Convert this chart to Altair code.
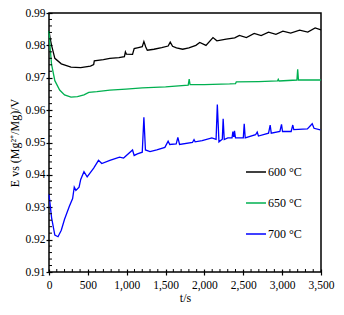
import altair as alt
import pandas as pd

# 600 °C
t600 = [0, 15, 33, 75, 158, 283, 408, 533, 575, 583, 700, 783, 900, 970, 983, 995, 1075, 1096, 1150, 1200, 1221, 1245, 1265,
        1350, 1450, 1533, 1560, 1590, 1640, 1720, 1800, 1890, 1940, 2020, 2110, 2160, 2280, 2390, 2450, 2540, 2640, 2730,
        2825, 2920, 3010, 3110, 3225, 3330, 3425, 3500]
e600 = [0.9845, 0.9822, 0.9800, 0.9760, 0.9743, 0.9733, 0.9731, 0.9736, 0.9741, 0.9752, 0.9756, 0.9760, 0.9762, 0.9765,
        0.9780, 0.9773, 0.9772, 0.9790, 0.9793, 0.9796, 0.9812, 0.9795, 0.9785, 0.9788, 0.9793, 0.9798, 0.9810, 0.9797,
        0.9792, 0.9788, 0.9792, 0.9800, 0.9809, 0.9800, 0.9824, 0.9814, 0.9819, 0.9823, 0.9831, 0.9824, 0.9837, 0.9830,
        0.9841, 0.9834, 0.9844, 0.9838, 0.9847, 0.9841, 0.9854, 0.9848]

# 650 °C
t650 = [0, 12, 33, 75, 137, 200, 283, 366, 450, 512, 616, 783, 991, 1200, 1500, 1791, 1804, 1815, 2000, 2325, 2400,
        2410, 2700, 2940, 2950, 2960, 3190, 3200, 3210, 3500]
e650 = [0.9844, 0.9800, 0.9741, 0.9691, 0.9662, 0.9647, 0.9640, 0.9642, 0.9647, 0.9655, 0.9657, 0.9662, 0.9665, 0.9669,
        0.9672, 0.9677, 0.9696, 0.9679, 0.9679, 0.9681, 0.9682, 0.9687, 0.9688, 0.9690, 0.9695, 0.9690, 0.9693, 0.9726,
        0.9693, 0.9693]

# 700 °C
t700 = [0, 33, 75, 116, 158, 200, 262, 304, 325, 346, 387, 408, 450, 491, 575, 637, 679, 783, 908, 960, 1075, 1096,
        1137, 1200, 1221, 1241, 1300, 1387, 1491, 1533, 1554, 1637, 1658, 1680, 1846, 1866, 1880, 1971, 2096, 2150, 2166,
        2187, 2230, 2241, 2255, 2300, 2355, 2366, 2375, 2380, 2387, 2400, 2500, 2512, 2525, 2658, 2679, 2695, 2825, 2846,
        2860, 2971, 2992, 3005, 3116, 3137, 3150, 3325, 3387, 3410, 3491]
e700 = [0.9340, 0.9268, 0.9214, 0.9209, 0.9229, 0.9263, 0.9303, 0.9327, 0.9362, 0.9352, 0.9362, 0.9386, 0.9410, 0.9394,
        0.9421, 0.9445, 0.9435, 0.9445, 0.9455, 0.9452, 0.9477, 0.9460, 0.9465, 0.9470, 0.9578, 0.9477, 0.9472, 0.9477,
        0.9485, 0.9504, 0.9494, 0.9496, 0.9516, 0.9494, 0.9500, 0.9509, 0.9502, 0.9506, 0.9514, 0.9510, 0.9617, 0.9502,
        0.9510, 0.9573, 0.9509, 0.9514, 0.9514, 0.9534, 0.9519, 0.9519, 0.9536, 0.9514, 0.9514, 0.9558, 0.9514, 0.9524,
        0.9532, 0.9520, 0.9529, 0.9554, 0.9529, 0.9534, 0.9556, 0.9534, 0.9534, 0.9554, 0.9540, 0.9542, 0.9558, 0.9544,
        0.9539]

series = ["600 °C", "650 °C", "700 °C"]
colors = ["#000000", "#00b050", "#0000ff"]

x_major = [0, 500, 1000, 1500, 2000, 2500, 3000, 3500]
y_major = [0.91, 0.92, 0.93, 0.94, 0.95, 0.96, 0.97, 0.98, 0.99]
x_minor = [v for v in range(0, 3501, 100) if v % 500 != 0]
y_minor = [round(0.91 + 0.002 * i, 3) for i in range(41) if i % 5 != 0]

frames = []
for name, ts, es in zip(series, [t600, t650, t700], [e600, e650, e700]):
    frames.append(pd.DataFrame({"t": ts, "E": es, "series": name}))
df = pd.concat(frames, ignore_index=True)

FONT = "Liberation Serif"
W, H = 272, 259

xscale = alt.Scale(domain=[0, 3500], nice=False, zero=False)
yscale = alt.Scale(domain=[0.91, 0.99], nice=False, zero=False)
xaxis = alt.Axis(title="t/s", values=x_major, format=",d", offset=-3, tickSize=6, labelFlush=False,
                 labelPadding=4, titlePadding=2)
yaxis = alt.Axis(title="E vs (Mg²⁺/Mg)/V", values=y_major, format=".2f", offset=-3, tickSize=6,
                 labelFlush=False, labelPadding=1, titlePadding=3)

lines = alt.Chart(df).mark_line(strokeWidth=1.3).encode(
    x=alt.X("t:Q", scale=xscale, axis=xaxis),
    y=alt.Y("E:Q", scale=yscale, axis=yaxis),
    color=alt.Color("series:N", scale=alt.Scale(domain=series, range=colors),
                    legend=alt.Legend(title=None, orient="none", legendX=196, legendY=148,
                                      symbolType="stroke", symbolSize=400, symbolStrokeWidth=1.5,
                                      rowPadding=14, labelOffset=1)),
    order="t:Q",
)

ymin = alt.Chart(pd.DataFrame({"E": y_minor})).mark_rule(color="black", strokeWidth=1).encode(
    y=alt.Y("E:Q", scale=yscale, axis=yaxis),
    x=alt.value(0), x2=alt.value(3),
)
xmin = alt.Chart(pd.DataFrame({"t": x_minor})).mark_rule(color="black", strokeWidth=1).encode(
    x=alt.X("t:Q", scale=xscale, axis=xaxis),
    y=alt.value(H), y2=alt.value(H - 3),
)

chart = alt.layer(lines, ymin, xmin).properties(
    width=W, height=H,
    autosize=alt.AutoSizeParams(type="none"),
    padding={"left": 41, "top": 5, "right": 15, "bottom": 33},
).configure_view(stroke="black", strokeWidth=1.5).configure_axis(
    domain=False, grid=False, tickColor="black", tickWidth=1.2,
    labelFont=FONT, labelFontSize=11.5, labelColor="black",
    titleFont=FONT, titleFontSize=12, titleFontWeight="normal", titleColor="black",
).configure_legend(labelFont=FONT, labelFontSize=12, labelColor="black")

chart.save("out.html", embed_options={"renderer": "svg", "actions": False})
